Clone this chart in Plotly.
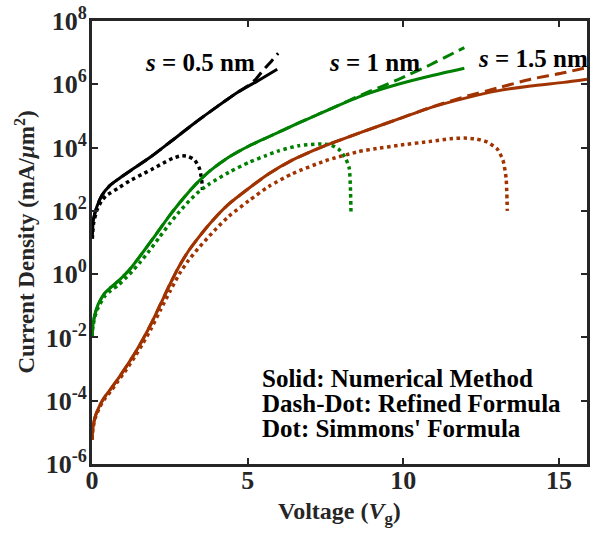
import plotly.graph_objects as go

# ---------------- data ----------------
# s = 0.5 nm (black)
v_05_num = [0, 0.04, 0.15, 0.31, 0.57, 0.84, 1.16, 1.48, 1.9, 2.54, 3.29, 4.03, 4.67, 5.31, 5.95]
j_05_num = [1.4e1, 4.9e1, 1.29e2, 3.0e2, 6.3e2, 1.0e3, 1.66e3, 2.7e3, 5.2e3, 1.58e4, 5.9e4, 2.0e5, 5.5e5, 1.26e6, 3.0e6]
v_05_ref = [0, 0.04, 0.15, 0.31, 0.57, 0.84, 1.16, 1.48, 1.9, 2.54, 3.29, 4.03, 4.67, 5.0, 5.25, 5.5, 5.75, 5.98]
j_05_ref = [1.4e1, 4.9e1, 1.29e2, 3.0e2, 6.3e2, 1.0e3, 1.66e3, 2.7e3, 5.2e3, 1.58e4, 5.9e4, 2.0e5, 5.5e5, 8.9e5, 1.41e6, 2.8e6, 5.2e6, 9.5e6]
v_05_sim = [0.01, 0.05, 0.15, 0.3, 0.45, 0.84, 1.21, 1.6, 1.9, 2.28, 2.6, 2.86, 3.1, 3.3, 3.45, 3.52, 3.55]
j_05_sim = [1.3e1, 4.0e1, 1.0e2, 2.0e2, 3.0e2, 5.2e2, 8.9e2, 1.41e3, 2.0e3, 3.2e3, 4.6e3, 5.5e3, 5.2e3, 4.0e3, 2.2e3, 1.0e3, 4.6e2]

# s = 1 nm (green)
v_10_num = [0, 0.03, 0.1, 0.2, 0.41, 0.6, 0.84, 1.21, 1.55, 1.85, 2.17, 2.49, 2.81, 3.13, 3.45, 3.77, 4.4, 5.04, 5.68, 6.64, 7.22, 7.7, 8.77, 9.83, 10.9, 11.96]
j_10_num = [1.0e-2, 2.5e-2, 5.6e-2, 1.12e-1, 2.5e-1, 3.8e-1, 6.0e-1, 1.41e0, 3.8e0, 9.5e0, 2.6e1, 7.1e1, 1.78e2, 4.2e2, 9.1e2, 1.78e3, 5.0e3, 1.12e4, 2.2e4, 6.0e4, 1.07e5, 1.74e5, 4.7e5, 1.0e6, 1.86e6, 3.2e6]
v_10_ref = [0, 0.03, 0.1, 0.2, 0.41, 0.6, 0.84, 1.21, 1.55, 1.85, 2.17, 2.49, 2.81, 3.13, 3.45, 3.77, 4.4, 5.04, 5.68, 6.64, 7.22, 7.7, 8.77, 9.3, 9.83, 10.9, 11.96]
j_10_ref = [1.0e-2, 2.5e-2, 5.6e-2, 1.12e-1, 2.5e-1, 3.8e-1, 6.0e-1, 1.41e0, 3.8e0, 9.5e0, 2.6e1, 7.1e1, 1.78e2, 4.2e2, 9.1e2, 1.78e3, 5.0e3, 1.12e4, 2.2e4, 6.0e4, 1.07e5, 1.74e5, 5.2e5, 8.5e5, 1.41e6, 4.3e6, 1.45e7]
v_10_sim = [0, 0.03, 0.1, 0.2, 0.41, 0.6, 0.84, 1.21, 1.55, 1.85, 2.17, 2.49, 2.81, 3.13, 3.45, 3.77, 4.4, 5.04, 5.57, 6.0, 6.64, 7.28, 7.65, 7.92, 8.13, 8.26, 8.3, 8.32]
j_10_sim = [1.0e-2, 2.2e-2, 4.7e-2, 8.9e-2, 2.0e-1, 3.0e-1, 4.5e-1, 1.0e0, 2.4e0, 5.6e0, 1.48e1, 3.9e1, 9.5e1, 2.1e2, 4.2e2, 7.1e2, 1.66e3, 3.4e3, 5.5e3, 7.9e3, 1.15e4, 1.29e4, 1.23e4, 8.9e3, 4.9e3, 2.3e3, 5.5e2, 7.9e1]

# s = 1.5 nm (brown)
v_15_num = [0, 0.03, 0.1, 0.25, 0.41, 0.62, 0.84, 1.1, 1.37, 1.64, 1.9, 2.2, 2.5, 2.8, 3.1, 3.4, 3.7, 4.0, 4.4, 5.04, 5.68, 6.43, 7.49, 8.55, 9.83, 10.9, 11.96, 13.02, 14.09, 15.15, 15.9]
j_15_num = [5.8e-6, 1.4e-5, 3.1e-5, 7.1e-5, 1.32e-4, 2.5e-4, 5.0e-4, 1.2e-3, 3.1e-3, 8.9e-3, 2.7e-2, 1.12e-1, 4.7e-1, 1.78e0, 5.4e0, 1.35e1, 3.16e1, 6.8e1, 1.66e2, 5.2e2, 1.48e3, 4.0e3, 1.15e4, 2.8e4, 7.9e4, 1.86e5, 3.6e5, 6.2e5, 8.9e5, 1.15e6, 1.45e6]
v_15_ref = [0, 0.03, 0.1, 0.25, 0.41, 0.62, 0.84, 1.1, 1.37, 1.64, 1.9, 2.2, 2.5, 2.8, 3.1, 3.4, 3.7, 4.0, 4.4, 5.04, 5.68, 6.43, 7.49, 8.55, 9.83, 10.9, 11.96, 13.02, 14.09, 15.15, 15.9]
j_15_ref = [5.8e-6, 1.4e-5, 3.1e-5, 7.1e-5, 1.32e-4, 2.5e-4, 5.0e-4, 1.2e-3, 3.1e-3, 8.9e-3, 2.7e-2, 1.12e-1, 4.7e-1, 1.78e0, 5.4e0, 1.35e1, 3.16e1, 6.8e1, 1.66e2, 5.2e2, 1.48e3, 4.0e3, 1.15e4, 2.8e4, 7.9e4, 1.9e5, 4.0e5, 7.6e5, 1.45e6, 2.3e6, 3.4e6]
v_15_sim = [0, 0.03, 0.1, 0.25, 0.41, 0.62, 0.84, 1.1, 1.37, 1.64, 1.9, 2.2, 2.5, 2.8, 3.1, 3.4, 3.7, 4.0, 4.4, 5.04, 5.68, 6.43, 7.49, 8.55, 9.14, 9.83, 10.9, 11.5, 11.96, 12.35, 12.7, 13.02, 13.2, 13.3, 13.34]
j_15_sim = [5.8e-6, 1.26e-5, 2.75e-5, 6.3e-5, 1.15e-4, 2.1e-4, 4.2e-4, 9.5e-4, 2.4e-3, 6.6e-3, 1.9e-2, 7.4e-2, 2.8e-1, 1.0e0, 2.75e0, 6.3e0, 1.35e1, 2.8e1, 6.8e1, 2.1e2, 5.9e2, 1.48e3, 3.8e3, 7.4e3, 9.3e3, 1.17e4, 1.58e4, 1.9e4, 2.0e4, 1.86e4, 1.48e4, 8.9e3, 4.0e3, 1.12e3, 1.0e2]

x_ticks = [0, 5, 10, 15]
y_ticks = [1e-6, 1e-4, 1e-2, 1e0, 1e2, 1e4, 1e6, 1e8]
y_ticktext = ["10<sup>-6</sup>", "10<sup>-4</sup>", "10<sup>-2</sup>", "10<sup>0</sup>",
              "10<sup>2</sup>", "10<sup>4</sup>", "10<sup>6</sup>", "10<sup>8</sup>"]

gap_labels = ["<i>s</i> = 0.5 nm", "<i>s</i> = 1 nm", "<i>s</i> = 1.5 nm"]
gap_label_x = [3.48, 9.06, 14.17]
gap_label_y = [6.68, 6.68, 6.8]
key_lines = ["Solid: Numerical Method", "Dash-Dot: Refined Formula", "Dot: Simmons' Formula"]
key_y = [-3.29, -4.08, -4.87]

BLACK = "#000000"
GREEN = "#008000"
BROWN = "#A03300"
FONT = "Liberation Serif"
AXC = "#262626"
SM = 0.6

fig = go.Figure()

series = [
    (v_05_num, j_05_num, v_05_ref, j_05_ref, v_05_sim, j_05_sim, BLACK),
    (v_10_num, j_10_num, v_10_ref, j_10_ref, v_10_sim, j_10_sim, GREEN),
    (v_15_num, j_15_num, v_15_ref, j_15_ref, v_15_sim, j_15_sim, BROWN),
]
for vn, jn, vr, jr, vs, js, col in series:
    fig.add_trace(go.Scatter(x=vn, y=jn, mode="lines", showlegend=False,
                             line=dict(color=col, width=3, shape="spline", smoothing=SM)))
    fig.add_trace(go.Scatter(x=vr, y=jr, mode="lines", showlegend=False,
                             line=dict(color=col, width=3, dash="12px,6px", shape="spline", smoothing=SM)))
    fig.add_trace(go.Scatter(x=vs, y=js, mode="lines", showlegend=False,
                             line=dict(color=col, width=3.5, dash="dot", shape="spline", smoothing=SM)))

for txt, xx, yy in zip(gap_labels, gap_label_x, gap_label_y):
    fig.add_annotation(x=xx, y=yy, xref="x", yref="y", text="<b>" + txt + "</b>",
                       showarrow=False, font=dict(family=FONT, size=25, color="black"),
                       xanchor="center", yanchor="middle")

for txt, yy in zip(key_lines, key_y):
    fig.add_annotation(x=5.39, y=yy, xref="x", yref="y", text="<b>" + txt + "</b>",
                       showarrow=False, font=dict(family=FONT, size=25, color="black"),
                       xanchor="left", yanchor="middle")

# axis titles placed as annotations for exact positioning
fig.add_annotation(xref="paper", yref="paper", x=0, y=0.5, xshift=-67, textangle=-90,
                   text="<b>Current Density (mA/<i>μ</i>m<sup>2</sup>)</b>", showarrow=False,
                   font=dict(family=FONT, size=23, color=AXC), xanchor="center", yanchor="middle")
fig.add_annotation(xref="paper", yref="paper", x=0.5, y=0, yshift=-49,
                   text="<b>Voltage (<i>V</i><sub>g</sub>)</b>", showarrow=False,
                   font=dict(family=FONT, size=24, color=AXC), xanchor="center", yanchor="middle")

fig.update_xaxes(range=[0, 15.9], tickvals=x_ticks, ticktext=[str(t) for t in x_ticks],
                 showline=True, linecolor=AXC, linewidth=3, mirror="ticks",
                 ticks="inside", ticklen=6, tickwidth=2, tickcolor=AXC,
                 showgrid=False, zeroline=False, ticklabelstandoff=-9,
                 tickfont=dict(family=FONT, size=26, color=AXC, weight="bold"))
fig.update_yaxes(type="log", range=[-6, 8], tickvals=y_ticks, ticktext=y_ticktext,
                 showline=True, linecolor=AXC, linewidth=3, mirror="ticks",
                 ticks="inside", ticklen=6, tickwidth=2, tickcolor=AXC,
                 showgrid=False, zeroline=False, ticklabelstandoff=-3,
                 tickfont=dict(family=FONT, size=26, color=AXC, weight="bold"))

fig.update_layout(width=593, height=533, margin=dict(l=92, r=3, t=20, b=69),
                  plot_bgcolor="white", paper_bgcolor="white")

fig.write_html("out.html")
